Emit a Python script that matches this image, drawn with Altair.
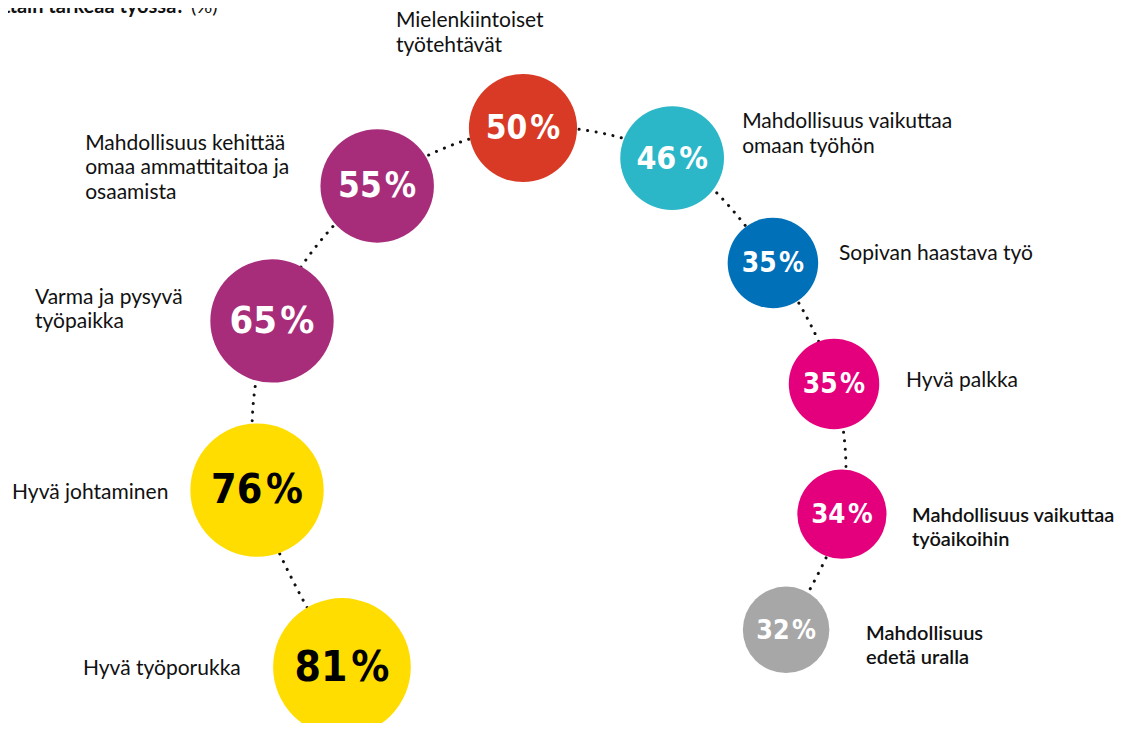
import math
import altair as alt
import pandas as pd

# ---- data ----
categories = [
    "Hyvä työporukka",
    "Hyvä johtaminen",
    "Varma ja pysyvä\ntyöpaikka",
    "Mahdollisuus kehittää\nomaa ammattitaitoa ja\nosaamista",
    "Mielenkiintoiset\ntyötehtävät",
    "Mahdollisuus vaikuttaa\nomaan työhön",
    "Sopivan haastava työ",
    "Hyvä palkka",
    "Mahdollisuus vaikuttaa\ntyöaikoihin",
    "Mahdollisuus\nedetä uralla",
]
values = [81, 76, 65, 55, 50, 46, 35, 35, 34, 32]
title_main = "Mikä on sinulle erittäin tärkeää työssä?"
title_unit = "(%)"

# ---- layout & style (not data) ----
colors = ["#FFDD00", "#FFDD00", "#A72D7A", "#A72D7A", "#D83A26",
          "#2BB7C8", "#0070B9", "#E4007C", "#E4007C", "#A7A7A7"]
value_text_colors = ["#000000", "#000000"] + ["#FFFFFF"] * 8
arc_center = (550, 450)
arc_angles = [226.2, 187.8, 155.1, 123.2, 94.8, 67.3, 40.0, 13.1, -12.4, -37.3]
arc_radii = [300.6, 295.7, 306.5, 315.6, 323.1, 316.5, 291.0, 291.6, 298.9, 296.8]
label_dx = [-259, -245, -237, -292, -127, 70, 66, 72, 70, 80]
label_dy = [8, 9, -17, -36, -101, -30, -3, 3, 8, 10]
label_bold = [False] * 8 + [True, True]

keys = [f"k{i}" for i in range(len(values))]
tkeys = [f"t{i}" for i in range(len(values))]
cx = [arc_center[0] + r * math.cos(math.radians(a)) for a, r in zip(arc_angles, arc_radii)]
cy = [arc_center[1] - r * math.sin(math.radians(a)) for a, r in zip(arc_angles, arc_radii)]

df = pd.DataFrame({
    "key": keys,
    "tkey": tkeys,
    "order": list(range(len(values))),
    "category": categories,
    "value": values,
    "vtext": [f"{v}\u200a%" for v in values],
    "x": cx,
    "y": cy,
    "lx": [x + d for x, d in zip(cx, label_dx)],
    "ly": [y + d for y, d in zip(cy, label_dy)],
    "bold": label_bold,
})

W, H = 1108, 715
xs = alt.Scale(domain=[8, 8 + W])
ys = alt.Scale(domain=[8, 8 + H], reverse=True)
X = lambda f: alt.X(f"{f}:Q", scale=xs, axis=None)
Y = lambda f: alt.Y(f"{f}:Q", scale=ys, axis=None)

base = alt.Chart(df)

line = base.mark_line(
    interpolate="catmull-rom", strokeDash=[0.1, 8.5], strokeCap="round",
    strokeWidth=3, color="#111111"
).encode(x=X("x"), y=Y("y"), order=alt.Order("order:Q"))

circles = base.mark_circle(opacity=1, strokeWidth=0).encode(
    x=X("x"), y=Y("y"),
    size=alt.Size("value:Q", scale=alt.Scale(type="linear", domain=[0, 100], range=[0, 23400], zero=True), legend=None),
    color=alt.Color("key:N", scale=alt.Scale(domain=keys, range=colors), legend=None),
)

vtext = base.mark_text(
    font="Liberation Sans Narrow, Noto Sans Condensed, DejaVu Sans Condensed, Roboto Condensed, Roboto, sans-serif",
    fontWeight="bold", align="center", baseline="middle", dy=1
).encode(
    x=X("x"), y=Y("y"), text="vtext:N",
    size=alt.Size("value:Q", scale=alt.Scale(type="sqrt", domain=[0, 100], range=[0, 47], zero=True), legend=None),
    color=alt.Color("tkey:N", scale=alt.Scale(domain=tkeys, range=value_text_colors), legend=None),
)

labels_reg = base.transform_filter("!datum.bold").mark_text(
    font="Lato", fontSize=21, align="left", baseline="alphabetic",
    lineBreak="\n", lineHeight=24.5, color="#111111"
).encode(x=X("lx"), y=Y("ly"), text="category:N")

labels_bold = base.transform_filter("datum.bold").mark_text(
    font="Lato", fontSize=20, fontWeight=600, align="left", baseline="alphabetic",
    lineBreak="\n", lineHeight=24, color="#111111"
).encode(x=X("lx"), y=Y("ly"), text="category:N")

tdf = pd.DataFrame({"t": [title_main], "u": [title_unit]})
title1 = alt.Chart(tdf).mark_text(
    font="Lato", fontSize=20, fontWeight="bold", align="right", baseline="alphabetic", color="#111111"
).encode(x=alt.value(185 - 8), y=alt.value(5), text="t:N")
title2 = alt.Chart(tdf).mark_text(
    font="Lato", fontSize=20, align="left", baseline="alphabetic", color="#111111"
).encode(x=alt.value(191 - 8), y=alt.value(5), text="u:N")

chart = alt.layer(line, circles, vtext, labels_reg, labels_bold, title1, title2).resolve_scale(
    size="independent", color="independent"
).properties(
    width=W, height=H, padding=0, background="white",
    autosize=alt.AutoSizeParams(type="none")
).configure_view(stroke=None, strokeWidth=0)

chart.save("out.html", embed_options={"renderer": "svg", "actions": False})
